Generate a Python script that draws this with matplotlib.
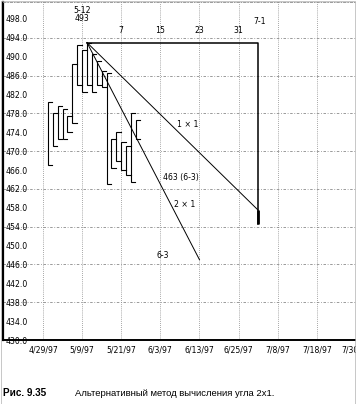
import matplotlib
matplotlib.use("Agg")
import matplotlib.pyplot as plt
import matplotlib.patches as mpatches

# Trading-day index (0 = 4/29/97) with daily high / low
bar_days = [1, 2, 3, 4, 5, 6, 7, 8, 9, 10, 11, 12, 13, 14, 15, 16, 17, 18, 19]
bar_high = [480.5, 478.0, 479.5, 479.0, 477.5, 488.5, 492.5, 491.5, 493.0, 490.5,
            489.0, 487.0, 486.5, 472.5, 474.0, 472.0, 471.0, 478.0, 476.5]
bar_low = [467.0, 471.0, 472.5, 472.5, 474.0, 476.0, 484.0, 482.5, 484.0, 482.5,
           484.0, 483.5, 463.0, 466.5, 468.0, 466.0, 465.0, 463.5, 472.5]

# 7/1 bar
last_day, last_high, last_low = 44, 457.5, 454.5

# Date axis labels every 8 trading days
xtick_days = [0, 8, 16, 24, 32, 40, 48, 56, 64]
xtick_labels = ["4/29/97", "5/9/97", "5/21/97", "6/3/97", "6/13/97",
                "6/25/97", "7/8/97", "7/18/97", "7/30/97"]

# Top (5-12, 493) and the time/price square out to 7-1
top_day, top_price = 9, 493.0
square_day, square_low = 44, 454.5

# Angle lines from the top
line_1x1 = ([9, 44], [493.0, 457.5])
line_2x1 = ([9, 32], [493.0, 447.0])

# Trading-day counts from the top
count_days = [16, 24, 32, 40]
count_labels = ["7", "15", "23", "31"]

ymin, ymax = 430.0, 501.6
yticks = list(range(430, 499, 4))
ygrid = list(range(438, 495, 8))

fig = plt.figure(figsize=(3.56, 4.04), dpi=100)
ax = fig.add_axes([3 / 356, 64 / 404, 363 / 356, 338 / 404])
ax.set_xlim(-8.18, 66.05)
ax.set_ylim(ymin, ymax)

grid_kw = dict(color="#8a8a8a", lw=0.6, zorder=1)
for g in ygrid:
    ax.axhline(g, ls=(0, (3, 2, 1, 2)), **grid_kw)
for d in xtick_days:
    ax.axvline(d, ls=(0, (1, 1.5)), **grid_kw)

# Price bars drawn as brackets
for d, h, l in zip(bar_days, bar_high, bar_low):
    ax.plot([d + 0.9, d, d, d + 0.9], [h, h, l, l], color="black", lw=0.8,
            solid_joinstyle="miter", zorder=3)
ax.plot([last_day, last_day], [last_low, last_high], color="black", lw=2.0,
        solid_capstyle="butt", zorder=4)

# Square of time and price
ax.plot([top_day, square_day, square_day], [top_price, top_price, square_low],
        color="black", lw=1.1, zorder=4)
ax.plot(*line_1x1, color="black", lw=0.7, zorder=4)
ax.plot(*line_2x1, color="black", lw=0.7, zorder=4)

fs = 5.6
txt = dict(ha="center", va="center", fontsize=fs, color="black", zorder=5)
ax.text(8, 499.9, "5-12", **txt)
ax.text(8, 498.1, "493", **txt)
for d, s in zip(count_days, count_labels):
    ax.text(d, 495.6, s, **txt)
ax.text(44.3, 497.5, "7-1", **txt)
ax.text(29.5, 475.6, "1 × 1", **txt)
ax.text(28.2, 464.5, "463 (6-3)", **txt)
ax.text(29.0, 458.6, "2 × 1", **txt)
ax.text(24.4, 448.0, "6-3", **txt)

# Axes styling
ax.set_yticks(yticks)
ax.set_yticklabels([f"{v:.1f}" for v in yticks])
ax.set_xticks(xtick_days)
ax.set_xticklabels(xtick_labels)
ax.tick_params(axis="y", length=0, pad=-2, labelsize=fs)
for lab in ax.get_yticklabels():
    lab.set_horizontalalignment("left")
ax.tick_params(axis="x", length=0, pad=4, labelsize=fs)

ax.spines["left"].set_linewidth(1.6)
ax.spines["bottom"].set_linewidth(1.4)
ax.spines["right"].set_visible(False)
ax.spines["top"].set_linestyle((0, (3, 2, 1, 2)))
ax.spines["top"].set_color("#8a8a8a")
ax.spines["top"].set_linewidth(0.6)

# Caption
fig.text(3 / 356, 1 - 393 / 404, "Рис. 9.35", fontsize=7.2, fontweight="bold",
         family="Liberation Sans", va="center", ha="left")
fig.text(75 / 356, 1 - 393 / 404, "Альтернативный метод вычисления угла 2x1.",
         fontsize=6.8, family="Liberation Sans", va="center", ha="left")

# Thin outer frame
fig.add_artist(mpatches.Rectangle((0.5 / 356, 0.5 / 404), 354.5 / 356, 402.5 / 404,
                                  transform=fig.transFigure, fill=False,
                                  ec="#b0b0b0", lw=0.5))

fig.savefig("out.png", dpi=100)
